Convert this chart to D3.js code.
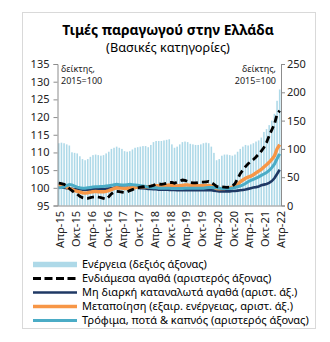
<!DOCTYPE html>
<html><head><meta charset="utf-8">
<script src="https://cdn.jsdelivr.net/npm/d3@7"></script>
<style>
html,body{margin:0;padding:0;background:#fff;}
svg{display:block;font-family:"Noto Sans",sans-serif;}
</style></head>
<body><svg id="c" width="330" height="342"></svg>
<script>
// ---- data ----
const nMonths = 85; // Apr-15 .. Apr-22
const tickLabels = ["Απρ-15","Οκτ-15","Απρ-16","Οκτ-16","Απρ-17","Οκτ-17","Απρ-18","Οκτ-18","Απρ-19","Οκτ-19","Απρ-20","Οκτ-20","Απρ-21","Οκτ-21","Απρ-22"];

// Energy (right axis)
const energy = [110,111,110,108,106,94,93,92,87,
 82,80,82,86,89,90,89,88,89,92,95,100,
 102,104,102,100,96,95,96,99,102,103,104,105,
 105,103,107,112,114,114,114,115,116,117,108,102,
 104,108,112,113,112,109,108,107,107,108,110,111,
 110,104,93,80,82,88,90,90,89,88,90,95,
 100,104,107,106,108,110,113,115,120,130,135,142,
 150,162,185,205];
// Intermediate goods (left axis)
const intermediate = [101.3,101.2,101.0,100.5,99.8,99.2,98.6,98.2,97.6,
 97.2,97.0,97.0,97.2,97.4,97.5,97.4,97.2,97.0,96.8,97.5,98.3,
 98.8,99.0,98.9,98.8,98.7,98.8,99.2,99.5,99.8,100.0,100.2,100.3,
 100.4,100.4,100.5,100.7,101.0,101.1,101.0,101.1,101.3,101.5,101.5,101.3,
 101.6,101.9,102.2,102.1,101.8,101.5,101.4,101.4,101.5,101.6,101.6,101.7,
 101.8,101.5,101.0,100.4,100.2,100.3,100.2,100.1,100.2,100.5,101.2,102.6,
 104.0,105.0,106.0,106.8,107.4,108.0,108.7,109.5,110.4,111.4,112.8,114.7,
 116.4,118.0,120.8,121.8];
// Non-durable consumer goods (left axis)
const nonDurable = [100.0,100.0,100.0,99.9,99.8,99.7,99.6,99.6,99.6,
 99.5,99.5,99.5,99.5,99.6,99.6,99.6,99.6,99.6,99.7,99.8,99.9,
 100.0,100.1,100.1,100.1,100.0,100.0,100.0,100.0,100.0,100.0,99.9,99.9,
 99.8,99.7,99.7,99.6,99.6,99.5,99.5,99.5,99.5,99.4,99.4,99.4,
 99.3,99.3,99.3,99.3,99.3,99.3,99.3,99.3,99.3,99.3,99.3,99.3,
 99.3,99.3,99.2,99.1,99.0,99.0,99.0,99.0,99.0,99.1,99.1,99.2,
 99.3,99.4,99.5,99.7,99.9,100.1,100.2,100.4,100.7,100.9,101.1,101.4,
 101.9,102.7,103.9,105.1];
// Manufacturing excl. energy (left axis)
const manufacturing = [100.6,100.7,100.5,100.2,99.8,99.5,99.2,99.0,98.8,
 98.6,98.5,98.6,98.8,98.9,99.0,98.9,98.9,98.9,99.0,99.2,99.5,
 99.8,100.0,99.9,99.9,99.8,99.8,99.9,100.0,100.1,100.2,100.3,100.3,
 100.3,100.3,100.4,100.5,100.6,100.6,100.6,100.7,100.7,100.8,100.7,100.5,
 100.5,100.6,100.7,100.8,100.8,100.7,100.6,100.6,100.6,100.6,100.6,100.7,
 100.7,100.5,100.2,99.8,99.7,99.8,99.8,99.9,100.0,100.2,100.4,100.9,
 101.7,102.2,102.7,103.0,103.3,103.7,104.2,104.7,105.2,105.9,106.5,107.2,
 108.0,109.0,111.0,112.2];
// Food, beverages & tobacco (left axis)
const food = [100.0,100.1,100.3,100.6,100.9,100.8,100.5,100.2,100.0,
 99.9,99.9,100.0,100.1,100.2,100.3,100.3,100.4,100.4,100.5,100.6,100.7,
 100.9,101.0,100.9,100.8,100.8,100.9,101.0,100.9,100.8,100.7,100.6,100.5,
 100.4,100.2,100.1,100.0,100.0,99.9,99.9,99.9,99.9,99.9,99.8,99.8,
 99.8,99.8,99.8,99.9,99.9,99.9,99.9,99.9,99.9,99.9,99.9,100.0,
 100.1,100.1,100.1,100.0,99.9,99.8,99.8,99.8,99.8,99.9,100.1,100.3,
 100.5,100.8,101.2,101.7,102.1,102.4,102.7,103.1,103.5,103.9,104.3,104.9,
 105.7,106.7,108.2,109.6];
const leftTicks = [95,100,105,110,115,120,125,130,135];
const rightTicks = [0,50,100,150,200,250];
const legendLabels = ["Ενέργεια (δεξιός άξονας)","Ενδιάμεσα αγαθά (αριστερός άξονας)","Μη διαρκή καταναλωτά αγαθά (αριστ. άξ.)","Μεταποίηση (εξαιρ. ενέργειας, αριστ. άξ.)","Τρόφιμα, ποτά & καπνός (αριστερός άξονας)"];

// ---- build ----
const months = d3.range(nMonths);
const svg = d3.select("#c");
const x0=57.5, x1=281, yTop=64, yBot=205.5;
const x = d3.scaleBand().domain(months).range([x0,x1]).paddingInner(0.4).paddingOuter(0.2);
const yL = d3.scaleLinear().domain([95,135]).range([yBot,yTop]);
const yR = d3.scaleLinear().domain([0,250]).range([yBot,yTop]);
const cx = i => x(i)+x.bandwidth()/2;

// border
svg.append("rect").attr("x",22.5).attr("y",12.5).attr("width",293).attr("height",316)
  .attr("fill","#fff").attr("stroke","#d9d9d9").attr("stroke-width",1);

function fit(sel, target){ const w = sel.node().getComputedTextLength(); const fs=parseFloat(sel.attr("font-size")); sel.attr("font-size", fs*target/w); return fs*target/w; }

// title
const t1 = svg.append("text").attr("x",168).attr("y",34.5).attr("text-anchor","middle")
  .attr("font-size",16).attr("font-weight","bold").attr("fill","#000").text("Τιμές παραγωγού στην Ελλάδα");
fit(t1,212);
const t2 = svg.append("text").attr("x",168).attr("y",52).attr("text-anchor","middle")
  .attr("font-size",13).attr("fill","#000").text("(Βασικές κατηγορίες)");
fit(t2,124);

// bars
svg.append("g").selectAll("rect").data(energy).join("rect")
  .attr("x",(d,i)=>x(i)).attr("width",x.bandwidth())
  .attr("y",d=>yR(d)).attr("height",d=>yR(0)-yR(d)).attr("fill","#aed9e8");

// axes
const axL = svg.append("g").attr("transform",`translate(${x0},0)`)
  .call(d3.axisLeft(yL).tickValues(leftTicks).tickSize(4).tickPadding(4));
const axR = svg.append("g").attr("transform",`translate(${x1},0)`)
  .call(d3.axisRight(yR).tickValues(rightTicks).tickSize(4).tickPadding(2));
[axL,axR].forEach(a=>{
  a.select(".domain").attr("stroke","#8c8c8c");
  a.selectAll(".tick line").attr("stroke","#8c8c8c");
  a.selectAll("text").attr("font-size",11).attr("fill","#222").attr("font-family","Noto Sans, sans-serif");
});
svg.append("line").attr("x1",x0).attr("x2",x1).attr("y1",yBot+0.5).attr("y2",yBot+0.5).attr("stroke","#8c8c8c");

// x labels every 6 months
const xl = svg.append("g");
tickLabels.forEach((lab,k)=>{
  const i=k*6;
  xl.append("text").attr("transform",`translate(${cx(i)+1.5},211) rotate(-90)`)
    .attr("text-anchor","end").attr("dy","0.35em").attr("font-size",11).attr("fill","#222").text(lab);
});

// lines
const line = arr => d3.line().x((d,i)=>cx(i)).y(d=>yL(d))(arr);
svg.append("path").attr("d",line(nonDurable)).attr("fill","none").attr("stroke","#1f3864").attr("stroke-width",2.6);
svg.append("path").attr("d",line(manufacturing)).attr("fill","none").attr("stroke","#f79646").attr("stroke-width",3.4);
svg.append("path").attr("d",line(food)).attr("fill","none").attr("stroke","#4bacc6").attr("stroke-width",3);
svg.append("path").attr("d",line(intermediate)).attr("fill","none").attr("stroke","#000").attr("stroke-width",2.8).attr("stroke-dasharray","7,4");

// unit notes
const n1 = svg.append("g").attr("font-size",9).attr("fill","#222");
n1.append("text").attr("x",61).attr("y",71.5).text("δείκτης,");
n1.append("text").attr("x",61).attr("y",84).text("2015=100");
n1.append("text").attr("x",276).attr("y",71.5).attr("text-anchor","end").text("δείκτης,");
n1.append("text").attr("x",276).attr("y",84).attr("text-anchor","end").text("2015=100");

// legend
const ly=[264.5,278.5,292.5,306.5,320.5];
const styles=[
  {c:"#aed9e8",w:5.5,d:null},
  {c:"#000",w:2.8,d:"8,3.5"},
  {c:"#1f3864",w:2.6,d:null},
  {c:"#f79646",w:3.4,d:null},
  {c:"#4bacc6",w:3,d:null}];
const lg = svg.append("g");
const lt=[];
legendLabels.forEach((lab,k)=>{
  lg.append("line").attr("x1",33).attr("x2",77).attr("y1",ly[k]).attr("y2",ly[k])
    .attr("stroke",styles[k].c).attr("stroke-width",styles[k].w).attr("stroke-dasharray",styles[k].d);
  lt.push(lg.append("text").attr("x",82).attr("y",ly[k]).attr("dy","0.35em").attr("font-size",12).attr("fill","#000").text(lab));
});
const fs = fit(lt[4],227);
lt.forEach(t=>t.attr("font-size",fs));
</script></body></html>
